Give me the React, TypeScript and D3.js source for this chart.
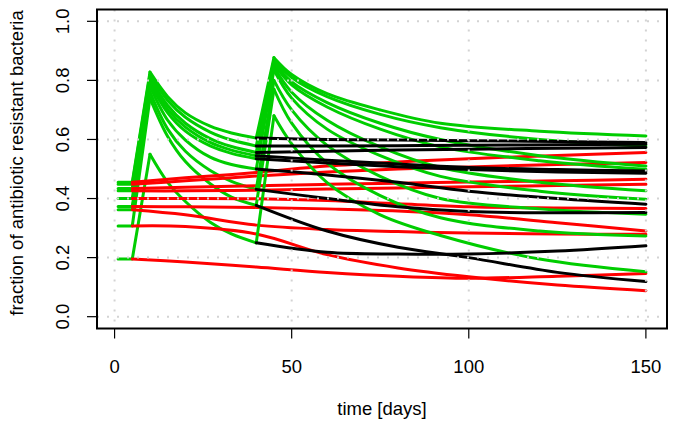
import React from 'react';
import * as d3 from 'd3';

const W = 675;
const H = 430;

const xTicks = [0, 50, 100, 150];
const yTicks = [0, 0.2, 0.4, 0.6, 0.8, 1.0];
const yTickLabels = ['0.0', '0.2', '0.4', '0.6', '0.8', '1.0'];

// flat start before the first treatment
const stubDays = [1, 5];

// first treatment course (green), one row per simulated host
const course1Days = [5, 10, 15, 20, 27, 33, 40];
const course1 = [
  [0.455, 0.828, 0.745, 0.69, 0.645, 0.622, 0.605],
  [0.448, 0.82, 0.732, 0.675, 0.625, 0.598, 0.578],
  [0.434, 0.81, 0.715, 0.655, 0.603, 0.576, 0.556],
  [0.426, 0.8, 0.702, 0.642, 0.59, 0.564, 0.545],
  [0.4, 0.79, 0.69, 0.628, 0.578, 0.553, 0.535],
  [0.373, 0.78, 0.665, 0.598, 0.54, 0.515, 0.5],
  [0.362, 0.76, 0.635, 0.56, 0.495, 0.458, 0.431],
  [0.307, 0.74, 0.61, 0.525, 0.45, 0.405, 0.377],
  [0.195, 0.55, 0.455, 0.39, 0.32, 0.28, 0.25],
];

// untreated (red)
const untreatedDays = [5, 20, 40, 60, 80, 100, 125, 150];
const untreated = [
  [0.455, 0.47, 0.488, 0.51, 0.524, 0.535, 0.546, 0.556],
  [0.448, 0.46, 0.476, 0.49, 0.5, 0.507, 0.515, 0.522],
  [0.434, 0.438, 0.443, 0.448, 0.452, 0.456, 0.46, 0.465],
  [0.426, 0.426, 0.428, 0.432, 0.436, 0.44, 0.444, 0.448],
  [0.4, 0.4, 0.399, 0.393, 0.382, 0.372, 0.368, 0.366],
  [0.373, 0.372, 0.37, 0.365, 0.358, 0.345, 0.318, 0.29],
  [0.362, 0.345, 0.31, 0.295, 0.288, 0.283, 0.28, 0.279],
  [0.307, 0.305, 0.28, 0.21, 0.165, 0.135, 0.107, 0.088],
  [0.195, 0.185, 0.168, 0.15, 0.137, 0.13, 0.137, 0.146],
];

// second treatment course (green)
const course2Days = [40, 45, 50, 60, 75, 92, 120, 150];
const course2 = [
  [0.605, 0.877, 0.82, 0.755, 0.7, 0.655, 0.628, 0.612],
  [0.578, 0.868, 0.81, 0.745, 0.685, 0.64, 0.6, 0.578],
  [0.556, 0.862, 0.795, 0.725, 0.655, 0.6, 0.545, 0.51],
  [0.545, 0.855, 0.785, 0.71, 0.635, 0.575, 0.528, 0.499],
  [0.535, 0.845, 0.76, 0.665, 0.575, 0.505, 0.455, 0.426],
  [0.5, 0.835, 0.74, 0.635, 0.545, 0.475, 0.425, 0.398],
  [0.431, 0.8, 0.7, 0.58, 0.475, 0.4, 0.365, 0.347],
  [0.377, 0.77, 0.655, 0.52, 0.41, 0.335, 0.29, 0.273],
  [0.25, 0.68, 0.585, 0.454, 0.345, 0.275, 0.195, 0.152],
];

// treatment stopped after first course (black)
const stoppedDays = [40, 60, 80, 100, 125, 150];
const stopped = [
  [0.605, 0.6, 0.598, 0.596, 0.593, 0.59],
  [0.578, 0.578, 0.579, 0.58, 0.582, 0.584],
  [0.556, 0.56, 0.564, 0.567, 0.57, 0.573],
  [0.545, 0.53, 0.517, 0.505, 0.498, 0.493],
  [0.535, 0.52, 0.508, 0.498, 0.49, 0.486],
  [0.5, 0.48, 0.455, 0.425, 0.4, 0.381],
  [0.431, 0.4, 0.372, 0.356, 0.352, 0.353],
  [0.377, 0.29, 0.235, 0.2, 0.15, 0.119],
  [0.25, 0.218, 0.212, 0.212, 0.222, 0.24],
];

const GREEN = '#00CD00';
const RED = '#FF0000';
const BLACK = '#000000';
const GRID = '#D3D3D3';
const FONT = '"Liberation Sans", Arial, Helvetica, sans-serif';

type P = [number, number];
const zip = (days: number[], vals: number[]): P[] => days.map((d, i) => [d, vals[i]]);

export default function App() {
  const left = 97, right = 667, top = 9.5, bottom = 328.5;
  const x = d3.scaleLinear().domain([-4.96, 155.96]).range([left, right]);
  const y = d3.scaleLinear().domain([-0.04, 1.04]).range([bottom, top]);
  const straight = d3.line<P>().x(d => x(d[0])).y(d => y(d[1]));
  const smooth = d3.line<P>().x(d => x(d[0])).y(d => y(d[1])).curve(d3.curveCatmullRom.alpha(0.5));

  const lw = 3;
  const paths: { d: string; c: string }[] = [];

  course1.forEach(row => {
    const pts = zip(course1Days, row);
    paths.push({ d: straight([[stubDays[0], row[0]], [stubDays[1], row[0]], pts[1]]) as string, c: GREEN });
    paths.push({ d: smooth(pts.slice(1)) as string, c: GREEN });
  });
  untreated.forEach(row => {
    paths.push({ d: smooth(zip(untreatedDays, row)) as string, c: RED });
  });
  course2.forEach(row => {
    const pts = zip(course2Days, row);
    paths.push({ d: straight(pts.slice(0, 2)) as string, c: GREEN });
    paths.push({ d: smooth(pts.slice(1)) as string, c: GREEN });
  });
  stopped.forEach(row => {
    paths.push({ d: smooth(zip(stoppedDays, row)) as string, c: BLACK });
  });

  const tickLen = 10;
  const fs = 18.5;

  return (
    <svg width={W} height={H} style={{ position: 'absolute', left: 0, top: 0, background: '#fff' }}>
      <rect x={0} y={0} width={W} height={H} fill="#fff" />
      <g fill="none" strokeLinecap="round" strokeLinejoin="round">
        {paths.map((p, i) => (
          <path key={i} d={p.d} stroke={p.c} strokeWidth={lw} />
        ))}
      </g>
      <g stroke={GRID} strokeWidth={2} strokeDasharray="2 8">
        {xTicks.map(t => (
          <line key={'gx' + t} x1={x(t)} x2={x(t)} y1={top} y2={bottom} />
        ))}
        {yTicks.map(t => (
          <line key={'gy' + t} x1={left} x2={right} y1={y(t)} y2={y(t)} />
        ))}
      </g>
      <rect x={left} y={top} width={right - left} height={bottom - top} fill="none" stroke="#000" strokeWidth={2} />
      <g stroke="#000" strokeWidth={1.2}>
        {xTicks.map(t => (
          <line key={'tx' + t} x1={x(t)} x2={x(t)} y1={bottom} y2={bottom + tickLen} />
        ))}
        {yTicks.map(t => (
          <line key={'ty' + t} x1={left} x2={left - tickLen} y1={y(t)} y2={y(t)} />
        ))}
      </g>
      <g fontFamily={FONT} fontSize={fs} fill="#000">
        {xTicks.map(t => (
          <text key={'lx' + t} x={x(t)} y={373} textAnchor="middle">{t}</text>
        ))}
        {yTicks.map((t, i) => (
          <text key={'ly' + t} transform={`translate(68.5,${y(t)}) rotate(-90)`} textAnchor="middle">{yTickLabels[i]}</text>
        ))}
        <text x={(left + right) / 2} y={415} textAnchor="middle">time [days]</text>
        <text transform={`translate(23,163) rotate(-90)`} textAnchor="middle">fraction of antibiotic resistant bacteria</text>
      </g>
    </svg>
  );
}
